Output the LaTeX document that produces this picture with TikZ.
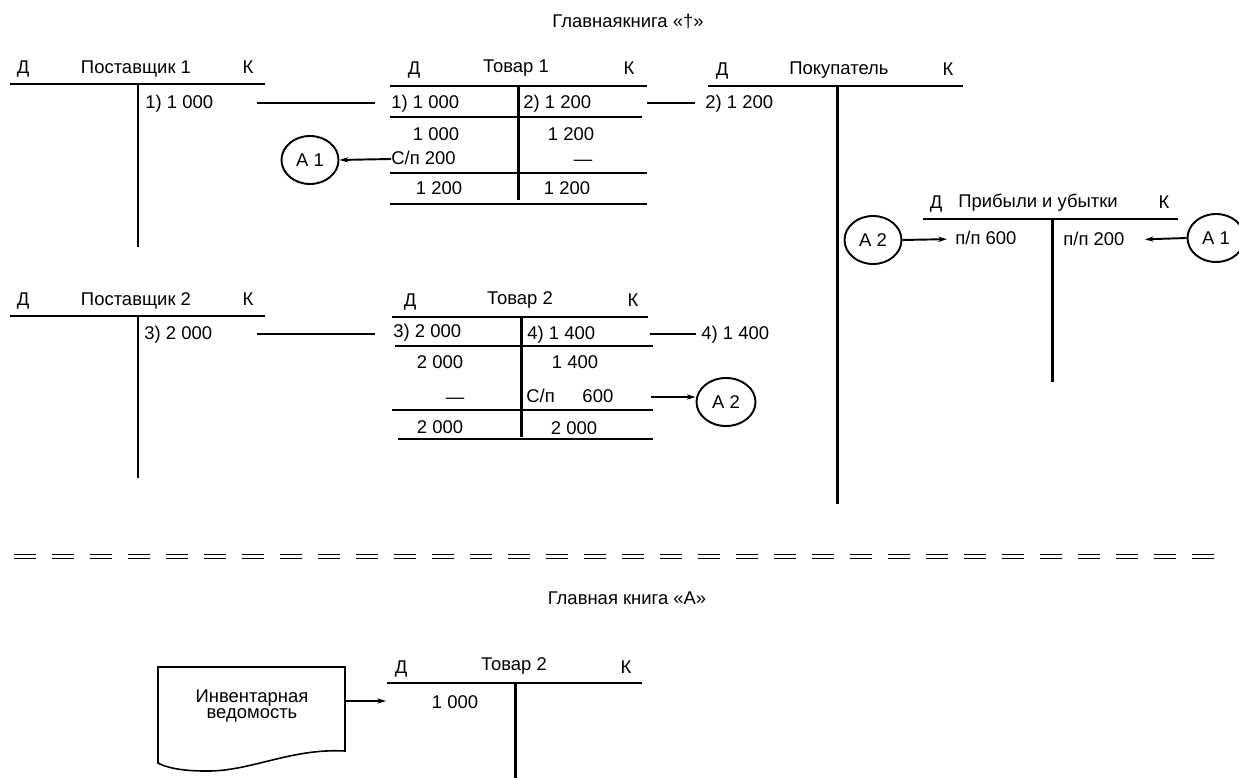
\documentclass[tikz,border=0pt]{standalone}
\usepackage{fontspec}
\setmainfont{Liberation Sans}
\usetikzlibrary{arrows.meta,positioning,shapes.geometric}

\begin{document}
\begin{tikzpicture}[x=0.2mm, y=-0.2mm,
    font=\fontsize{10.5}{12}\selectfont,
    tline/.style={line width=1.7pt},
    conn/.style={line width=1.1pt},
    arr/.style={line width=1.1pt, -{Stealth[length=5pt, width=3pt]}},
    acc/.style={ellipse, draw, line width=1.1pt, minimum width=11.4mm,
                minimum height=9.6mm, inner sep=0pt},
    lt/.style={anchor=west, inner sep=0pt},
    dbl/.style={line width=0.3mm, dash pattern=on 4.4mm off 3.2mm}]
\useasboundingbox (0,0) rectangle (1239,778);

\begin{scope}[every node/.append style={text height=1.6ex, text depth=0.4ex}]
% Главная книга «†»
\node (title1) at (628,22) {Главнаякнига «†»};

% Поставщик 1
\node (p1d) at (23,68) {Д};
\node (p1n) at (136,68) {Поставщик 1};
\node (p1k) at (248,68) {К};
\draw[tline] (10,84) -- (265,84);
\draw[tline] (138,84) -- (138,247);
\node[lt] (p1e1) at (145,103) {1) 1 000};

% Товар 1
\node (t1d) at (414,69) {Д};
\node (t1n) at (516,67) {Товар 1};
\node (t1k) at (629,69) {К};
\draw[tline] (390,86) -- (647,86);
\draw[tline] (518,86) -- (518,200);
\draw[tline] (390,117) -- (642,117);
\draw[tline] (390,173) -- (647,173);
\draw[tline] (390,204) -- (647,204);
\node[lt] (t1e1) at (391,103) {1) 1 000};
\node[lt] (t1e2) at (523,103) {2) 1 200};
\node (t1o1) at (436,135) {1 000};
\node (t1o2) at (571,135) {1 200};
\node[lt] (t1cp) at (391,159) {С/п 200};
\node (t1nil) at (583,160) {—};
\node (t1s1) at (439,189) {1 200};
\node (t1s2) at (567,189) {1 200};

% Покупатель
\node (bd) at (722,70) {Д};
\node (bn) at (839,69) {Покупатель};
\node (bk) at (948,70) {К};
\draw[tline] (708,86) -- (963,86);
\draw[tline] (837,86) -- (837,504);
\node[lt] (be1) at (705,103) {2) 1 200};

% Прибыли и убытки
\node (pud) at (936,203) {Д};
\node (pun) at (1038,202) {Прибыли и убытки};
\node (puk) at (1164,203) {К};
\draw[tline] (923,219) -- (1178,219);
\draw[tline] (1052,219) -- (1052,382);
\node[lt] (pue1) at (955,239) {п/п 600};
\node[lt] (pue2) at (1063,240) {п/п 200};

% Поставщик 2
\node (p2d) at (23,300) {Д};
\node (p2n) at (136,300) {Поставщик 2};
\node (p2k) at (248,300) {К};
\draw[tline] (10,316) -- (265,316);
\draw[tline] (138,316) -- (138,478);
\node[lt] (p2e1) at (144,334) {3) 2 000};

% Товар 2
\node (t2d) at (410,301) {Д};
\node (t2n) at (520,299) {Товар 2};
\node (t2k) at (633,301) {К};
\draw[tline] (392,317) -- (648,317);
\draw[tline] (521,317) -- (521,437);
\draw[tline] (395,346) -- (653,346);
\draw[tline] (392,410) -- (653,410);
\draw[tline] (398,439) -- (653,439);
\node[lt] (t2e1) at (393,332) {3) 2 000};
\node[lt] (t2e2) at (527,334) {4) 1 400};
\node (t2o1) at (440,363) {2 000};
\node (t2o2) at (575,363) {1 400};
\node (t2nil) at (455,398) {—};
\node[lt] (t2cp) at (526,397) {С/п\hspace{1.5em}600};
\node (t2s1) at (440,428) {2 000};
\node (t2s2) at (574,429) {2 000};
\node[lt] (se1) at (701,334) {4) 1 400};

% Главная книга «А»
\node (title2) at (627,599) {Главная книга «А»};

\node (bt2d) at (401,668) {Д};
\node (bt2n) at (514,665) {Товар 2};
\node (bt2k) at (626,668) {К};
\draw[tline] (387,683) -- (642,683);
\draw[tline] (515,683) -- (515,778);
\node (bt2e1) at (455,703) {1 000};
\end{scope}

% закрытие счетов
\node[acc] (a1l) at (310,160) {А 1};
\node[acc, minimum width=11.8mm] (a2b) at (726,402) {А 2};
\node[acc] (a2r) at (873,240) {А 2};
\node[acc] (a1r) at (1216,238) {А 1};

% связи
\coordinate (c1s) at (257,103);
\coordinate (c1e) at (375,103);
\coordinate (c2s) at (647,103);
\coordinate (c2e) at (695,103);
\coordinate (c3s) at (257,334);
\coordinate (c3e) at (375,334);
\coordinate (c4s) at (650,334);
\coordinate (c4e) at (696,334);
\coordinate (c5s) at (651,397);
\draw[conn] (c1s) -- (c1e);
\draw[conn] (c2s) -- (c2e);
\draw[conn] (c3s) -- (c3e);
\draw[conn] (c4s) -- (c4e);
\draw[arr] (t1cp.west) -- (a1l.east);
\draw[arr] (c5s) -- (c5s -| a2b.west);
\draw[arr, shorten >=1.6mm] (a2r.east) -- (pue1.west);
\draw[arr, shorten >=4mm] (a1r.west) -- (pue2.east);

% граница
\draw[dbl] (14,554.5) -- (1216,554.5);
\draw[dbl] (14,558.5) -- (1216,558.5);

% Инвентарная ведомость
\draw[conn, line width=0.9pt] (158,763) -- (158,667) -- (345,667) -- (345,751)
    .. controls (290,748) and (250,772) .. (205,771)
    .. controls (180,771) and (165,767) .. (158,763) -- cycle;
\node[align=center, font=\fontsize{10.5}{9.5}\selectfont] (inv) at (252,706) {Инвентарная\\ведомость};
\coordinate (c6s) at (345,701);
\coordinate (c6e) at (386,701);
\draw[arr] (c6s) -- (c6e);
\end{tikzpicture}
\end{document}
